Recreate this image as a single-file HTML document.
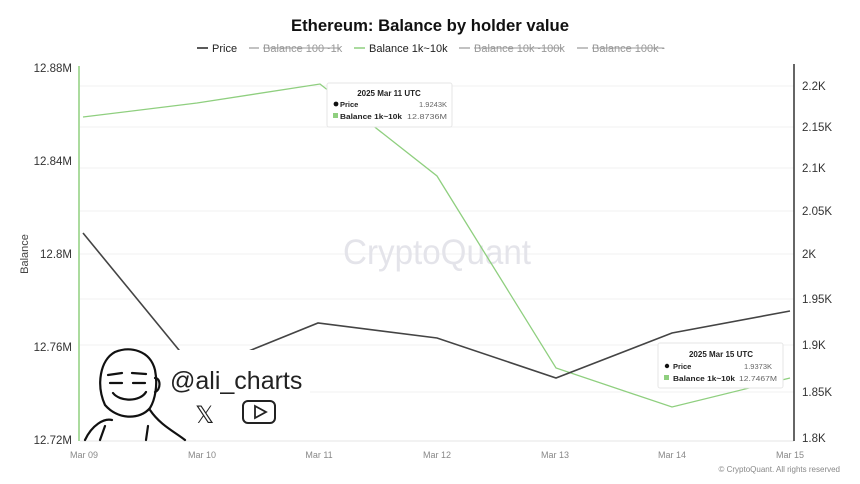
<!DOCTYPE html>
<html><head><meta charset="utf-8"><style>
body{margin:0;background:#fff;}
svg{display:block;font-family:"Liberation Sans",sans-serif;}
</style></head><body>
<svg width="860" height="484" viewBox="0 0 860 484" xmlns="http://www.w3.org/2000/svg">
<rect width="860" height="484" fill="#fff"/>
<text x="430" y="31" text-anchor="middle" font-size="17" font-weight="bold" fill="#111" textLength="278" lengthAdjust="spacingAndGlyphs">Ethereum: Balance by holder value</text>
<g font-size="11">
<line x1="197" y1="48" x2="208" y2="48" stroke="#222" stroke-width="1.5"/><text x="212" y="52" fill="#222">Price</text>
<line x1="249" y1="48" x2="259" y2="48" stroke="#999" stroke-width="1.2"/><text x="263" y="52" fill="#999">Balance 100~1k</text><line x1="263" y1="48" x2="340" y2="48" stroke="#999"/>
<line x1="354" y1="48" x2="365" y2="48" stroke="#8fcf7f" stroke-width="1.5"/><text x="369" y="52" fill="#222">Balance 1k~10k</text>
<line x1="459" y1="48" x2="470" y2="48" stroke="#999" stroke-width="1.2"/><text x="474" y="52" fill="#999">Balance 10k~100k</text><line x1="474" y1="48" x2="562" y2="48" stroke="#999"/>
<line x1="577" y1="48" x2="588" y2="48" stroke="#999" stroke-width="1.2"/><text x="592" y="52" fill="#999">Balance 100k~</text><line x1="592" y1="48" x2="664" y2="48" stroke="#999"/>
</g>
<g stroke="#f0f0f2" stroke-width="1">
<line x1="80" y1="86" x2="794" y2="86"/><line x1="80" y1="127" x2="794" y2="127"/><line x1="80" y1="168" x2="794" y2="168"/><line x1="80" y1="211" x2="794" y2="211"/><line x1="80" y1="254" x2="794" y2="254"/><line x1="80" y1="299" x2="794" y2="299"/><line x1="80" y1="345" x2="794" y2="345"/><line x1="80" y1="392" x2="794" y2="392"/>
</g>
<line x1="80" y1="441" x2="794" y2="441" stroke="#e4e4e4"/>
<text x="437" y="264" text-anchor="middle" font-size="35" fill="#e4e4ea" textLength="188" lengthAdjust="spacingAndGlyphs">CryptoQuant</text>
<line x1="79" y1="66" x2="79" y2="441" stroke="#8fcf7f" stroke-width="1.5"/>
<line x1="794" y1="64" x2="794" y2="441" stroke="#333" stroke-width="1.5"/>
<g font-size="11.5" fill="#333" text-anchor="end">
<text x="72" y="72">12.88M</text><text x="72" y="165">12.84M</text><text x="72" y="258">12.8M</text><text x="72" y="351">12.76M</text><text x="72" y="444">12.72M</text>
</g>
<text transform="translate(28,254) rotate(-90)" text-anchor="middle" font-size="11" fill="#444">Balance</text>
<g font-size="11.5" fill="#333">
<text x="802" y="90">2.2K</text><text x="802" y="131">2.15K</text><text x="802" y="172">2.1K</text><text x="802" y="215">2.05K</text><text x="802" y="258">2K</text><text x="802" y="303">1.95K</text><text x="802" y="349">1.9K</text><text x="802" y="396">1.85K</text><text x="802" y="442">1.8K</text>
</g>
<g font-size="9" fill="#888" text-anchor="middle">
<text x="84" y="458">Mar 09</text><text x="202" y="458">Mar 10</text><text x="319" y="458">Mar 11</text><text x="437" y="458">Mar 12</text><text x="555" y="458">Mar 13</text><text x="672" y="458">Mar 14</text><text x="790" y="458">Mar 15</text>
</g>
<text x="840" y="472" text-anchor="end" font-size="8" fill="#888">© CryptoQuant. All rights reserved</text>
<polyline points="83,117 197,103 320,84 437,176 556,368 672,407 790,378" fill="none" stroke="#8fcf7f" stroke-width="1.3"/>
<polyline points="83,233 197,372 318,323 437,338 556,378 672,333 790,311" fill="none" stroke="#444" stroke-width="1.6"/>
<!-- meme block -->
<rect x="80" y="350" width="230" height="90" fill="#fff"/>
<g fill="none" stroke="#111" stroke-width="2.2" stroke-linecap="round">
<path d="M105,405 C96,385 100,360 115,352 C130,346 150,350 155,370 C158,385 155,400 150,408 C140,420 118,420 105,405 Z"/>
<path d="M108,375 l14,-2 M132,373 l14,1"/>
<path d="M110,383 l12,0 M133,383 l12,0"/>
<path d="M113,393 C120,402 140,402 146,392"/>
<path d="M155,378 c6,0 6,12 0,14"/>
<path d="M85,440 C92,425 104,418 112,420 M150,410 C160,425 175,432 185,440"/>
<path d="M100,440 l5,-14 M146,440 l2,-14"/>
</g>
<text x="170" y="389" font-size="25" fill="#222">@ali_charts</text>
<text x="195" y="423" font-size="24" fill="#222">𝕏</text>
<rect x="243" y="401" width="32" height="22" rx="5" fill="none" stroke="#222" stroke-width="2"/>
<path d="M255,406 L266,412 L255,418 Z" fill="none" stroke="#222" stroke-width="1.8"/>
<!-- tooltips -->
<g>
<rect x="327" y="83" width="125" height="44" fill="#fff" stroke="#e6e6e6" rx="2"/>
<text x="389" y="96" text-anchor="middle" font-size="8" font-weight="bold" fill="#222">2025 Mar 11 UTC</text>
<circle cx="336" cy="104" r="2.4" fill="#111"/><text x="340" y="107" font-size="7.5" font-weight="bold" fill="#222">Price</text><text x="447" y="107" text-anchor="end" font-size="7.5" fill="#666">1.9243K</text>
<rect x="333" y="113" width="5" height="5" fill="#8fcf7f"/><text x="340" y="119" font-size="7.5" font-weight="bold" fill="#222" textLength="62" lengthAdjust="spacingAndGlyphs">Balance 1k~10k</text><text x="407" y="119" font-size="7.5" fill="#666" textLength="40" lengthAdjust="spacingAndGlyphs">12.8736M</text>
</g>
<g>
<rect x="658" y="343" width="125" height="45" fill="#fff" stroke="#e6e6e6" rx="2"/>
<text x="721" y="357" text-anchor="middle" font-size="8" font-weight="bold" fill="#222">2025 Mar 15 UTC</text>
<circle cx="667" cy="366" r="2.2" fill="#111"/><text x="673" y="369" font-size="7.5" font-weight="bold" fill="#222">Price</text><text x="772" y="369" text-anchor="end" font-size="7.5" fill="#666">1.9373K</text>
<rect x="664" y="375" width="5" height="5" fill="#8fcf7f"/><text x="673" y="381" font-size="7.5" font-weight="bold" fill="#222" textLength="62" lengthAdjust="spacingAndGlyphs">Balance 1k~10k</text><text x="739" y="381" font-size="7.5" fill="#666" textLength="38" lengthAdjust="spacingAndGlyphs">12.7467M</text>
</g>
</svg>
</body></html>
